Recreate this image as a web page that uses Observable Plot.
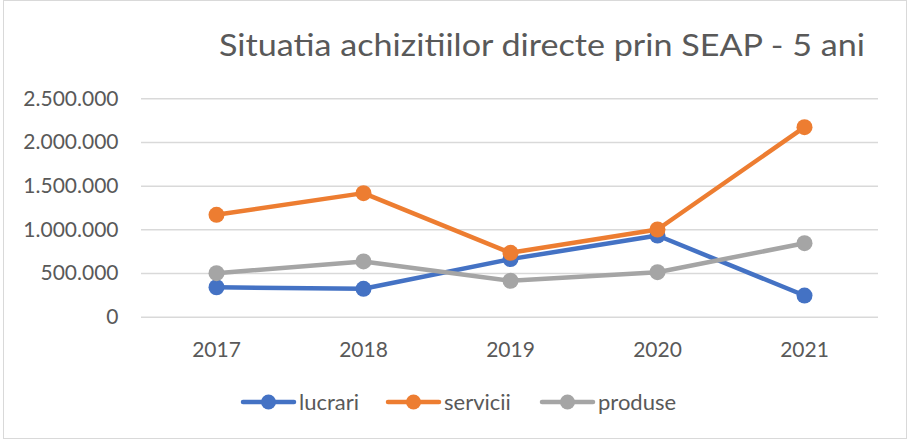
<!DOCTYPE html>
<html>
<head>
<meta charset="utf-8">
<script src="https://cdn.jsdelivr.net/npm/d3@7"></script>
<script src="https://cdn.jsdelivr.net/npm/@observablehq/plot@0.6"></script>
<style>
  html, body { margin: 0; padding: 0; background: #fff; }
  body { width: 909px; height: 442px; position: relative; overflow: hidden; font-family: Lato, "Open Sans", sans-serif; }
  #frame { position: absolute; left: 3px; top: 0px; width: 904px; height: 439px; box-sizing: border-box; border: 1.5px solid #d9d9d9; }
  #chart { position: absolute; left: 0; top: 80px; }
  #overlay { position: absolute; left: 0; top: 0; }
</style>
</head>
<body>
<div id="frame"></div>
<div id="chart"></div>
<svg id="overlay" width="909" height="442"></svg>
<script>
const titleText = "Situatia achizitiilor directe prin SEAP - 5 ani";
const years = ["2017", "2018", "2019", "2020", "2021"];
const seriesNames = ["lucrari", "servicii", "produse"];
const seriesColors = ["#4472C4", "#ED7D31", "#A5A5A5"];
const lucrari = [343000, 325000, 665000, 935000, 248000];
const servicii = [1172000, 1420000, 737000, 1004000, 2175000];
const produse = [504000, 638000, 417000, 515000, 847000];
const yTicks = [0, 500000, 1000000, 1500000, 2000000, 2500000];

const seriesValues = [lucrari, servicii, produse];
const rows = seriesNames.flatMap((name, i) =>
  years.map((year, j) => ({ series: name, year, value: seriesValues[i][j] }))
);

const fmt = d3.formatLocale({ decimal: ",", thousands: ".", grouping: [3], currency: ["", ""] }).format(",d");
const textColor = "#595959";
const fontFamily = "Lato, 'Open Sans', sans-serif";

const seriesMarks = seriesNames.flatMap((name, i) => {
  const d = rows.filter(r => r.series === name);
  return [
    Plot.line(d, { x: "year", y: "value", stroke: seriesColors[i], strokeWidth: 4.5, strokeLinejoin: "round", strokeLinecap: "round" }),
    Plot.dot(d, { x: "year", y: "value", r: 8, fill: seriesColors[i], stroke: "none" })
  ];
});

const chart = Plot.plot({
  width: 909,
  height: 290,
  marginLeft: 141,
  marginRight: 31,
  marginTop: 18.3,
  marginBottom: 53.3,
  style: { fontFamily, fontSize: "21px", color: textColor, background: "transparent", overflow: "visible" },
  x: { type: "point", domain: years, padding: 0.5, label: null },
  y: { domain: [0, 2500000], label: null },
  marks: [
    Plot.ruleY(yTicks, { stroke: "#d9d9d9", strokeWidth: 1.5 }),
    Plot.axisY(yTicks, { tickSize: 0, tickPadding: 23, tickFormat: fmt, label: null, fill: textColor }),
    Plot.axisX(years, { tickSize: 0, tickPadding: 25, label: null, fill: textColor }),
    ...seriesMarks
  ]
});
document.getElementById("chart").appendChild(chart);

// Title & legend
const overlay = d3.select("#overlay");
overlay.append("text")
  .attr("x", 219).attr("y", 56)
  .attr("font-family", fontFamily).attr("font-weight", 400)
  .attr("font-size", 31).attr("fill", textColor)
  .attr("textLength", 646).attr("lengthAdjust", "spacingAndGlyphs")
  .text(titleText);

const legendX = [241, 386, 540];
seriesNames.forEach((name, i) => {
  const g = overlay.append("g").attr("transform", `translate(${legendX[i]},402)`);
  g.append("line").attr("x1", 2).attr("x2", 53).attr("y1", 0).attr("y2", 0)
    .attr("stroke", seriesColors[i]).attr("stroke-width", 4.5).attr("stroke-linecap", "round");
  g.append("circle").attr("cx", 27.5).attr("cy", 0).attr("r", 7.5).attr("fill", seriesColors[i]);
  g.append("text").attr("x", 58).attr("y", 8)
    .attr("font-family", fontFamily).attr("font-size", 22).attr("fill", textColor)
    .text(name);
});
</script>
</body>
</html>
